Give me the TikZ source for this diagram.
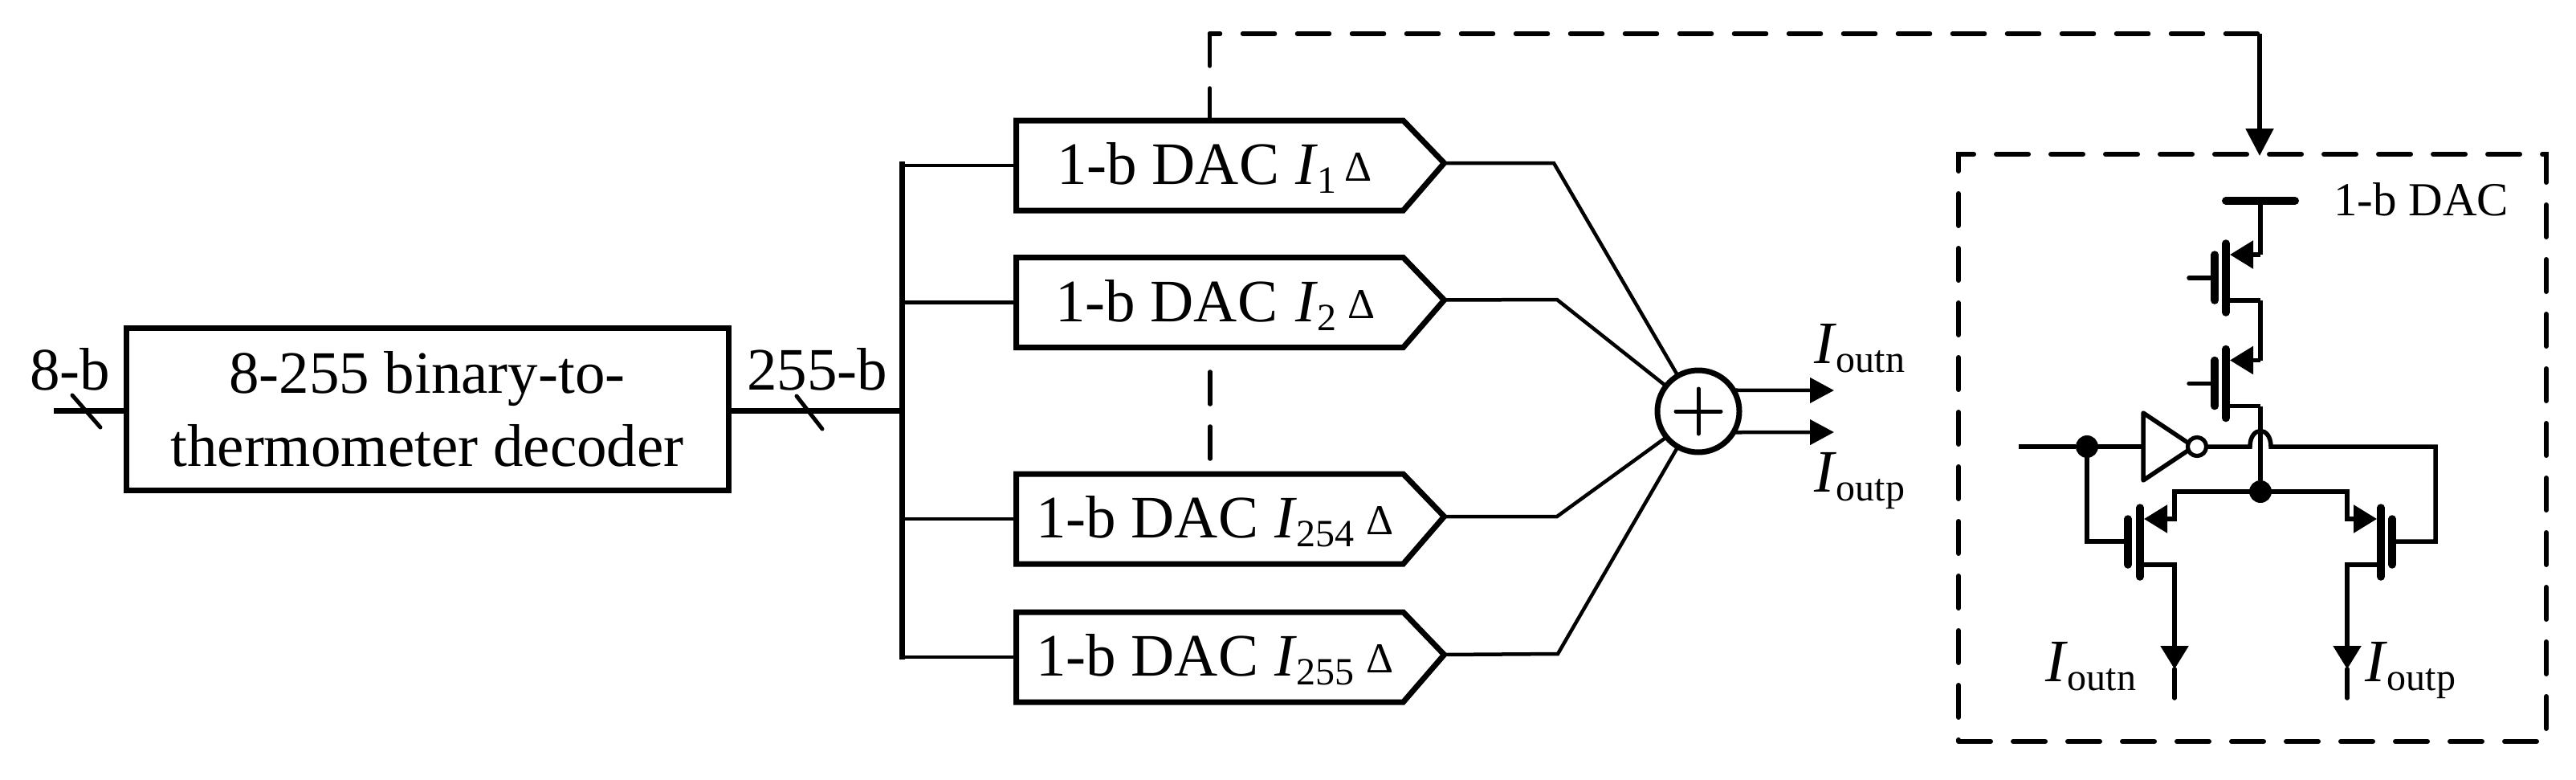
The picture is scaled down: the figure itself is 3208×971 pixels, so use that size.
\documentclass[tikz,border=0pt]{standalone}
\usepackage{fontspec}
\setmainfont{Liberation Serif}
\usetikzlibrary{arrows.meta,calc}
\newcommand{\fbig}{\fontsize{75pt}{91pt}\selectfont}
\newcommand{\fsub}{\fontsize{48pt}{50pt}\selectfont}
\newcommand{\fdel}{\fontsize{53pt}{55pt}\selectfont}
\newcommand{\fsmall}{\fontsize{59pt}{60pt}\selectfont}
\newcommand{\Isub}[1]{\textit{I}{\fsub\raisebox{-11pt}{#1}}}
% name, centre y, text x, I x, subscript, delta x
\newcommand{\dacblock}[6]{%
  \node[dacbase] (#1) at (1506.5,#2) {};
  \coordinate (#1tip) at ($(#1.east)+(51,-3)$);
  \draw[dacline] (#1.north west) -- (#1.north east) -- (#1tip) -- (#1.south east) -- (#1.south west) -- cycle;
  \node[lbl,font=\fbig] (#1t) at (#3,#2+23.5) {1-b DAC};
  \node[lbl,font=\fbig] (#1i) at (#4,#2+23.5) {\Isub{#5}};
  \node[lbl,font=\fdel] (#1d) at (#6,#2+19.5) {Δ};
}
\tikzset{
  lbl/.style={inner sep=0pt,outer sep=0pt,anchor=base west},
  thick block/.style={draw=black,line width=7pt,inner sep=0pt,outer sep=0pt},
  dacbase/.style={inner sep=0pt,outer sep=0pt,minimum width=482pt,minimum height=112pt},
  dacline/.style={line width=7pt,miter limit=10},
  bus/.style={line width=7pt},
  thin wire/.style={line width=4.5pt},
  slash/.style={line width=5pt,line cap=round},
  dash line/.style={line width=5.5pt,line cap=round,dash pattern=on 40pt off 28pt},
  dash box/.style={line width=6pt,line cap=round,dash pattern=on 40pt off 28pt},
  wire/.style={line width=5.5pt,line join=miter},
  mosbar/.style={line width=9.5pt,line cap=round},
  junct/.style={circle,fill=black,inner sep=0pt,outer sep=0pt,minimum size=28pt},
  sumnode/.style={circle,draw=black,fill=white,line width=7pt,inner sep=0pt,outer sep=0pt,minimum size=102pt},
  bubble/.style={circle,draw=black,fill=white,line width=5pt,inner sep=0pt,outer sep=0pt,minimum size=23pt},
  tip out/.style={-{Triangle[length=30pt,width=31pt]}},
  tip mos/.style={-{Triangle[length=29pt,width=34pt]}},
  tip big/.style={-{Triangle[length=34pt,width=34pt]}},
}
\begin{document}
\begin{tikzpicture}[x=1pt,y=-1pt]
\useasboundingbox (0,0) rectangle (3208,971);
% ---- decoder ----
\node[thick block,minimum width=750pt,minimum height=202pt,align=center,font=\fbig] (dec) at (532,509)
  {8-255 binary-to-\\thermometer decoder};
\coordinate (inp) at (67,511);
\coordinate (bustop) at (1123,201);
\coordinate (busbot) at (1123,821);
\coordinate (busin) at (1123,511);
\draw[bus] (inp) -- (inp -| dec.west);
\draw[bus] (busin -| dec.east) -- (busin);
\draw[bus] (bustop) -- (busbot);
\coordinate (s1a) at (90,492); \coordinate (s1b) at (125,532);
\coordinate (s2a) at (992,493); \coordinate (s2b) at (1024,534);
\draw[slash] (s1a) -- (s1b);
\draw[slash] (s2a) -- (s2b);
\node[lbl,font=\fbig] (t8b) at (37,485) {8-b};
\node[lbl,font=\fbig] (t255) at (930,485) {255-b};
% ---- DAC blocks ----
\dacblock{dacA}{206}{1316}{1613}{1}{1674}
\dacblock{dacB}{376.5}{1314}{1613}{2}{1678}
\dacblock{dacC}{646}{1290}{1587}{254}{1701}
\dacblock{dacD}{818}{1290}{1587}{255}{1701}
\draw[thin wire] (bustop |- dacA.west) -- (dacA.west);
\draw[thin wire] (bustop |- dacB.west) -- (dacB.west);
\draw[thin wire] (bustop |- dacC.west) -- (dacC.west);
\draw[thin wire] (bustop |- dacD.west) -- (dacD.west);
\coordinate (dotsA) at (1507,463);
\coordinate (dotsB) at (1507,573);
\draw[dash line] (dotsA) -- (dotsB);
% ---- summing node ----
\node[sumnode] (sum) at (2115,512) {};
\draw[line width=5pt,line cap=round] ($(sum)+(-28,0)$) -- ($(sum)+(28,0)$);
\draw[line width=5pt,line cap=round] ($(sum)+(0,-28)$) -- ($(sum)+(0,28)$);
\coordinate (bA) at (1935,203); \coordinate (bB) at (1939,373);
\coordinate (bC) at (1939,643); \coordinate (bD) at (1940,814);
\draw[thin wire] (dacAtip) -- (bA) -- (sum.120);
\draw[thin wire] (dacBtip) -- (bB) -- (sum.142);
\draw[thin wire] (dacCtip) -- (bC) -- (sum.219);
\draw[thin wire] (dacDtip) -- (bD) -- (sum.240);
\coordinate (outA) at (2284,486); \coordinate (outB) at (2284,538);
\draw[thin wire,tip out] (sum.31) -- (outA);
\draw[thin wire,tip out] (sum.-31) -- (outB);
\node[lbl,font=\fbig] (lblA) at (2259,452) {\Isub{outn}};
\node[lbl,font=\fbig] (lblB) at (2259,612) {\Isub{outp}};
% ---- dashed link to detail ----
\coordinate (lkA) at (dacA.north);
\coordinate (lkB) at (1506.5,42);
\coordinate (lkC) at (2814,42);
\coordinate (lkD) at (2814,194);
\draw[dash line] (lkA) -- (lkB);
\draw[dash line,dash phase=27pt] (lkB) -- (lkC);
\draw[wire,tip big] (lkC) -- (lkD);
% ---- detail box ----
\coordinate (bxA) at (2439,923);
\coordinate (bxB) at (3171,923);
\coordinate (bxC) at (3171,192);
\coordinate (bxD) at (2439,192);
\draw[dash box] (bxA) -- (bxB) -- (bxC) -- (bxD) -- (bxA);
\node[lbl,font=\fsmall] (lblD) at (2906,268) {1-b DAC};
% ---- supply + PMOS stack ----
\coordinate (vddL) at (2772,250); \coordinate (vddR) at (2858,250); \coordinate (vddM) at (2815,250);
\draw[line width=10pt,line cap=round] (vddL) -- (vddR);
\foreach \off/\nm in {0/P,131.5/Q}{
  \begin{scope}[shift={(0,\off)}]
    \coordinate (\nm s) at (2815,317);
    \coordinate (\nm t) at (2777,317);
    \coordinate (\nm d) at (2815,374);
    \coordinate (\nm e) at (2772,374);
    \coordinate (\nm g) at (2726,346);
    \coordinate (\nm h) at (2758,346);
    \draw[mosbar] (2772,303) -- (2772,389);
    \draw[mosbar] (2758,317) -- (2758,374);
    \draw[wire,tip mos] (\nm s) -- (\nm t);
    \draw[wire] (\nm e) -- (\nm d);
    \draw[wire,line cap=round] (\nm g) -- (\nm h);
  \end{scope}
}
\draw[wire] (vddM) -- (Ps);
\draw[wire] (Pd) -- (Qs);
% ---- inverter and input ----
\node[junct] (jin) at (2599,556) {};
\node[junct] (jtail) at (2815,612) {};
\node[bubble] (bub) at (2736,556) {};
\coordinate (inF) at (2514,556);
\coordinate (invin) at (2669,556);
\coordinate (invT) at (2669,514);
\coordinate (invB) at (2669,598);
\coordinate (invX) at (2732,556);
\draw[wire] (inF) -- (jin) -- (invin);
\draw[wire,line join=round] (invT) -- (invB) -- (invX) -- cycle;
\node[bubble] at (bub) {};
\draw[wire] (Qd) -- (jtail);
% ---- differential pair ----
\draw[mosbar] (2665,632) -- (2665,718);
\draw[mosbar] (2650,646) -- (2650,703);
\draw[mosbar] (2965,632) -- (2965,718);
\draw[mosbar] (2979,646) -- (2979,703);
\coordinate (gL) at (2650,674); \coordinate (gR) at (2979,674);
\coordinate (nS) at (2708,646); \coordinate (nT) at (2670,646);
\coordinate (mS) at (2923,646); \coordinate (mT) at (2960,646);
\coordinate (nD) at (2665,703); \coordinate (nX) at (2708,703);
\coordinate (mD) at (2965,703); \coordinate (mX) at (2923,703);
\coordinate (nA) at (2708,833); \coordinate (nE) at (2708,869);
\coordinate (mA) at (2923,833); \coordinate (mE) at (2923,869);
\coordinate (hopL) at (2802,556); \coordinate (hopR) at (2828,556);
\coordinate (hopC1) at (2802,530); \coordinate (hopC2) at (2828,530);
\coordinate (gRup) at (3033,556); \coordinate (gRdn) at (3033,674);
\draw[wire] (jin.center) -- (jin.center |- gL) -- (gL);
\draw[wire] (bub.east) -- (hopL) .. controls (hopC1) and (hopC2) .. (hopR) -- (gRup) -- (gRdn) -- (gR);
\draw[wire,tip mos] (jtail.center) -| (nS) -- (nT);
\draw[wire,tip mos] (jtail.center) -| (mS) -- (mT);
\draw[wire,tip mos] (nD) -- (nX) -- (nA);
\draw[wire,tip mos] (mD) -- (mX) -- (mA);
\draw[wire,line cap=round] (nA) -- (nE);
\draw[wire,line cap=round] (mA) -- (mE);
\node[lbl,font=\fbig] (lblN) at (2547,848) {\Isub{outn}};
\node[lbl,font=\fbig] (lblP) at (2945,848) {\Isub{outp}};
\end{tikzpicture}
\end{document}
